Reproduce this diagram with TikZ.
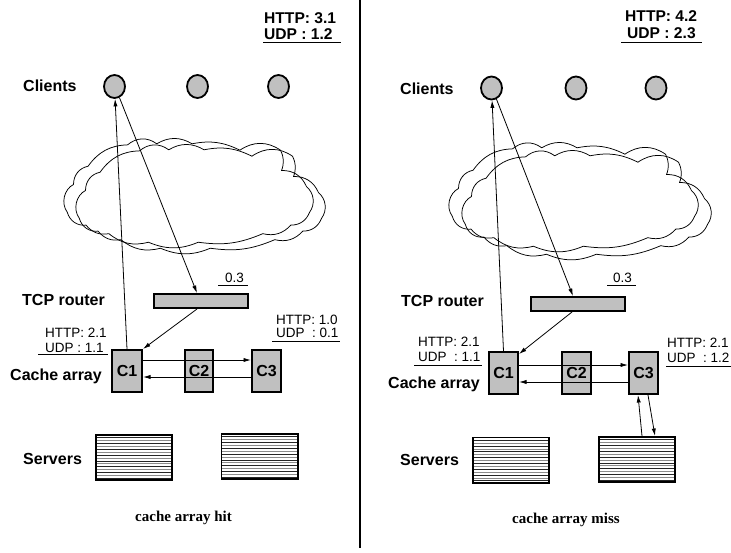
\documentclass[tikz,border=0pt]{standalone}
\usepackage{fontspec}
\setmainfont{Liberation Sans}
\newfontfamily\capserif{Liberation Serif}
\usetikzlibrary{shapes.geometric,arrows.meta}
\definecolor{boxgray}{RGB}{192,192,192}

\begin{document}
\begin{tikzpicture}[x=1pt,y=-1pt,
  every node/.style={inner sep=0pt},
  arr/.style={-{Latex[length=7.5pt,width=4.2pt]}, line width=0.8pt},
  rule/.style={line width=0.8pt},
  client/.style={ellipse, draw, line width=1.8pt, fill=boxgray,
    minimum width=21pt, minimum height=23pt},
  cachebox/.style={rectangle, draw, line width=1.6pt, fill=boxgray,
    minimum height=42.4pt, font=\fontsize{16}{18}\selectfont\bfseries},
  router/.style={rectangle, draw, line width=1.6pt, fill=boxgray,
    minimum width=94.4pt, minimum height=14.4pt},
  server/.style={rectangle, draw, line width=1.6pt,
    minimum width=76.4pt, minimum height=45.4pt,
    path picture={
      \foreach \k in {1,...,15}{
        \pgfmathsetmacro{\shade}{isodd(\k) ? 85 : 45}
        \draw[line width=0.7pt, black!\shade]
          ([yshift=-\k*2.9pt]path picture bounding box.north west) --
          ([yshift=-\k*2.9pt]path picture bounding box.north east);
      }}},
  rowlabel/.style={anchor=base west, font=\fontsize{16}{18}\selectfont\bfseries},
  total/.style={anchor=base west, font=\fontsize{15.6}{18}\selectfont\bfseries},
  stat/.style={anchor=base west, font=\fontsize{13.5}{15}\selectfont},
  caption/.style={anchor=base west, font=\fontsize{15}{17}\selectfont\capserif\bfseries},
  % wavy network cloud: shallow lobes between notch points, drawn clockwise
  pics/netcloud/.style={code={
    \draw[line width=0.75pt, xscale=1.04, yscale=1.07]
      (-118,18) to[bend left=50] (-112,-8) to[bend left=40] (-98,-25)
      to[bend left=26] (-60,-45) to[bend left=38] (-32,-46)
      to[bend left=30] (2,-46) to[bend left=18] (48,-40)
      to[bend left=34] (87,-40) to[bend left=24] (88,-21)
      to[bend left=34] (112,-6) to[bend left=44] (115,18)
      to[bend left=34] (97,30) to[bend left=30] (70,38)
      to[bend left=15] (8,46) to[bend left=22] (-40,46)
      to[bend left=26] (-78,38) to[bend left=30] (-100,30)
      to[bend left=40] (-118,18) -- cycle;
  }}
]
\useasboundingbox (0,0) rectangle (731,552);

% panel divider
\draw[line width=2.4pt] (360,0) -- (360,548);

% ---------------- left panel: cache array hit ----------------
\node[total] (ltotA) at (264,23.3) {HTTP: 3.1};
\node[total] (ltotB) at (264,39.3) {UDP : 1.2};
\draw[rule] (263,42.7) -- (341,42.7);

\node[rowlabel] (lclients) at (23,91.7) {Clients};
\node[rowlabel] (lrouter) at (22,305) {TCP router};
\node[rowlabel] (lcache) at (10,380) {Cache array};
\node[rowlabel] (lservers) at (23,464.3) {Servers};

% internet cloud, drawn twice with an offset
\pic at (190,193) {netcloud};
\pic at (202,199) {netcloud};

\node[client] (lcl1) at (114.5,86.5) {};
\node[client] (lcl2) at (197.5,86.5) {};
\node[client] (lcl3) at (278.5,86.5) {};

\node[router] (lrt) at (201,301) {};
\node[stat] (lrtload) at (225,282.7) {0.3};
\draw[rule] (218,285) -- (248,285);

\node[cachebox, minimum width=30.4pt] (lc1) at (127,371) {C1};
\node[cachebox, minimum width=28.4pt] (lc2) at (199,371) {C2};
\node[cachebox, minimum width=29.4pt] (lc3) at (266.5,371) {C3};

\node[stat] (lc1a) at (45,337) {HTTP: 2.1};
\node[stat] (lc1b) at (45,352.4) {UDP : 1.1};
\draw[rule] (38,354) -- (108,354);
\node[stat] (lc3a) at (276,324) {HTTP: 1.0};
\node[stat] (lc3b) at (276,337.5) {UDP\ \ : 0.1};
\draw[rule] (272,341.7) -- (340,341.7);

\node[server] (lsv1) at (134,457.5) {};
\node[server] (lsv2) at (259.5,456.5) {};

\draw[arr] (lc1.north) -- (lcl1);
\draw[arr] (lcl1.-66) -- ([xshift=-4pt]lrt.north);
\draw[arr] ([xshift=-4pt]lrt.south) -- (lc1.north east);
\draw[arr] ([yshift=11pt]lc1.east) -- ([yshift=11pt]lc3.west);
\draw[arr] ([yshift=-6pt]lc3.west) -- ([yshift=-6pt]lc1.east);

\node[caption] (lcap) at (135,521) {cache array hit};

% ---------------- right panel: cache array miss ----------------
\node[total] (rtotA) at (625,21.7) {HTTP: 4.2};
\node[total] (rtotB) at (627,38.3) {UDP : 2.3};
\draw[rule] (621,42.7) -- (702,42.7);

\node[rowlabel] (rclients) at (400,94.3) {Clients};
\node[rowlabel] (rrouter) at (401,306.5) {TCP router};
\node[rowlabel] (rcache) at (388,388) {Cache array};
\node[rowlabel] (rservers) at (400,465) {Servers};

\pic at (575,197) {netcloud};
\pic at (588,205) {netcloud};

\node[client] (rcl1) at (491.5,88) {};
\node[client] (rcl2) at (576,88) {};
\node[client] (rcl3) at (656,88) {};

\node[router] (rrt) at (578,304) {};
\node[stat] (rrtload) at (613,282.7) {0.3};
\draw[rule] (607,285) -- (636,285);

\node[cachebox, minimum width=29.4pt] (rc1) at (503.5,373) {C1};
\node[cachebox, minimum width=29.4pt] (rc2) at (576.5,373) {C2};
\node[cachebox, minimum width=29.4pt] (rc3) at (643.5,373) {C3};

\node[stat] (rc1a) at (418,346.7) {HTTP: 2.1};
\node[stat] (rc1b) at (418,361.7) {UDP\ \ : 1.1};
\draw[rule] (414,365) -- (482,365);
\node[stat] (rc3a) at (667,347.7) {HTTP: 2.1};
\node[stat] (rc3b) at (667,362.7) {UDP\ \ : 1.2};
\draw[rule] (666,366) -- (731,366);

\node[server] (rsv1) at (511,460) {};
\node[server] (rsv2) at (637,459.5) {};

\draw[arr] (rc1.north) -- (rcl1);
\draw[arr] (rcl1.-66) -- ([xshift=-5pt]rrt.north);
\draw[arr] ([xshift=-6pt]rrt.south) -- ([yshift=-3pt]rc1.north east);
\draw[arr] ([yshift=8pt]rc1.east) -- ([yshift=8pt]rc3.west);
\draw[arr] ([yshift=-9pt]rc3.west) -- ([yshift=-9pt]rc1.east);
\draw[arr] ([xshift=5pt]rsv2.north) -- ([xshift=-5.5pt]rc3.south);
\draw[arr] ([xshift=4.5pt]rc3.south) -- ([xshift=18pt]rsv2.north);

\node[caption] (rcap) at (512,523.5) {cache array miss};
\end{tikzpicture}
\end{document}
